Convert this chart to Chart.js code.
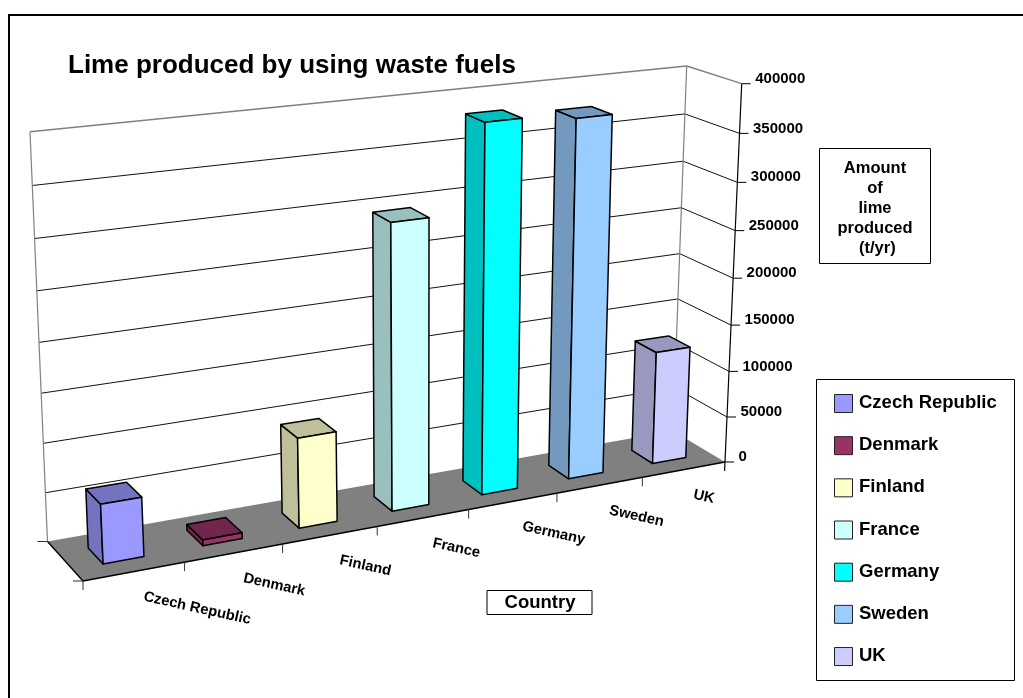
<!DOCTYPE html>
<html>
<head>
<meta charset="utf-8">
<title>Lime produced by using waste fuels</title>
<script src="https://cdn.jsdelivr.net/npm/chart.js@4"></script>
<style>
  html, body { margin: 0; padding: 0; background: #fff; overflow: hidden; }
  canvas { display: block; }
</style>
</head>
<body>
<canvas id="limeChart" width="1023" height="698"></canvas>
<script>
const chartTitle = 'Lime produced by using waste fuels';
const countries = ['Czech Republic', 'Denmark', 'Finland', 'France', 'Germany', 'Sweden', 'UK'];
const limeProduced = [60000, 6000, 93000, 295000, 382000, 376000, 122000];
const faceColors = ['#9999FF', '#993366', '#FFFFCC', '#CCFFFF', '#00FFFF', '#99CCFF', '#CCCCFF'];
const sideColors = ['#7373BF', '#73264D', '#BFBF99', '#99BFBF', '#00BFBF', '#7399BF', '#9999BF'];
const valueAxisLines = ['Amount', 'of', 'lime', 'produced', ' (t/yr)'];
const categoryAxisTitle = 'Country';

// screen corners of the 3d box the chart sits in
const box = {
  floorFrontLeft: [83, 581], floorFrontRight: [725, 462],
  floorBackLeft: [47.5, 541.5], floorBackRight: [673, 431],
  topFrontLeft: [63, 156], topFrontRight: [741.7, 83.7],
  topBackLeft: [30, 131.7], topBackRight: [686.7, 66]
};
const uWarp = 1.128;    // perspective along the categories
const hWarp = 0.945;    // perspective along the values
const depthFront = 0.29, depthBack = 0.70;
const font = 'Liberation Sans, Arial, sans-serif';

function warp(t, k) {
  return t * k / (1 - t + t * k);
}

function mix(a, b, t) {
  return [a[0] + (b[0] - a[0]) * t, a[1] + (b[1] - a[1]) * t];
}

// u: left to right, v: front to back, h: floor to top (all 0..1)
function project(u, v, h) {
  const uu = warp(u, uWarp), hh = warp(h, hWarp);
  const floorFront = mix(box.floorFrontLeft, box.floorFrontRight, uu);
  const floorBack = mix(box.floorBackLeft, box.floorBackRight, uu);
  const topFront = mix(box.topFrontLeft, box.topFrontRight, uu);
  const topBack = mix(box.topBackLeft, box.topBackRight, uu);
  return mix(mix(floorFront, floorBack, v), mix(topFront, topBack, v), hh);
}

function poly(ctx, pts, fill, stroke, lineWidth) {
  ctx.beginPath();
  pts.forEach((p, i) => i ? ctx.lineTo(p[0], p[1]) : ctx.moveTo(p[0], p[1]));
  ctx.closePath();
  if (fill) { ctx.fillStyle = fill; ctx.fill(); }
  if (stroke) { ctx.strokeStyle = stroke; ctx.lineWidth = lineWidth; ctx.stroke(); }
}

function line(ctx, a, b, color, lineWidth) {
  ctx.beginPath();
  ctx.moveTo(a[0], a[1]);
  ctx.lineTo(b[0], b[1]);
  ctx.strokeStyle = color;
  ctx.lineWidth = lineWidth;
  ctx.stroke();
}

function drawWalls(chart, ctx) {
  const yScale = chart.scales.y, area = chart.chartArea;
  ctx.lineJoin = 'round';
  yScale.ticks.forEach(tick => {
    const h = (area.bottom - yScale.getPixelForValue(tick.value)) / area.height;
    if (h <= 0) return;
    const color = h >= 1 ? '#808080' : '#111';
    const width = h >= 1 ? 1.4 : 1;
    line(ctx, project(0, 1, h), project(1, 1, h), color, width);
    line(ctx, project(1, 1, h), project(1, 0, h), color, width);
  });
  line(ctx, project(0, 1, 0), project(0, 1, 1), '#808080', 1.2);
  line(ctx, project(1, 1, 0), project(1, 1, 1), '#808080', 1.2);
  poly(ctx, [project(0, 0, 0), project(1, 0, 0), project(1, 1, 0), project(0, 1, 0)], '#808080');
  line(ctx, project(0, 1, 0), project(0, 0, 0), '#000', 1.4);
  line(ctx, project(0, 0, 0), project(1, 0, 0), '#000', 1.4);
}

function drawAxes(chart, ctx) {
  const yScale = chart.scales.y, xScale = chart.scales.x, area = chart.chartArea;
  const n = xScale.getLabels().length;

  // value axis runs up the right front corner
  const axisFoot = project(1, 0, 0);
  line(ctx, [axisFoot[0] - 0.4, axisFoot[1] + 9], project(1, 0, 1), '#000', 1.2);
  ctx.font = 'bold 15px ' + font;
  ctx.fillStyle = '#000';
  ctx.textAlign = 'left';
  ctx.textBaseline = 'middle';
  yScale.ticks.forEach(tick => {
    const h = (area.bottom - yScale.getPixelForValue(tick.value)) / area.height;
    const p = project(1, 0, h);
    line(ctx, p, [p[0] + 9, p[1]], '#000', 1);
    ctx.fillText(tick.label, p[0] + 13.5, p[1] - 5);
  });

  // little marks under the floor edges
  line(ctx, project(0, 1, 0), [project(0, 1, 0)[0] - 10, project(0, 1, 0)[1]], '#333', 1);
  line(ctx, project(0, 0, 0), [project(0, 0, 0)[0] - 10, project(0, 0, 0)[1]], '#333', 1);
  for (let i = 0; i < n; i++) {
    const p = project(i / n, 0, 0);
    line(ctx, p, [p[0], p[1] + 9], '#333', 1);
  }

  // category labels sit rotated just below the front edge
  ctx.font = 'bold 14.7px ' + font;
  xScale.getLabels().forEach((label, i) => {
    const u = (xScale.getPixelForValue(i) - area.left) / area.width;
    const p = project(u, 0, 0);
    ctx.save();
    ctx.translate(p[0] + 9.5, p[1] + 25);
    ctx.rotate(12.5 * Math.PI / 180);
    ctx.fillStyle = '#000';
    ctx.textAlign = 'left';
    ctx.textBaseline = 'middle';
    ctx.fillText(label, 0, 0);
    ctx.restore();
  });
}

function drawBars(chart, ctx) {
  const area = chart.chartArea;
  const meta = chart.getDatasetMeta(0);
  meta.data.forEach((bar, i) => {
    const props = bar.getProps(['x', 'y', 'width']);
    const u0 = (props.x - props.width / 2 - area.left) / area.width;
    const u1 = (props.x + props.width / 2 - area.left) / area.width;
    const h = (area.bottom - props.y) / area.height;
    const v0 = depthFront, v1 = depthBack;
    const outline = '#000';
    poly(ctx, [project(u0, v0, 0), project(u0, v1, 0), project(u0, v1, h), project(u0, v0, h)], sideColors[i], outline, 1.5);
    poly(ctx, [project(u0, v0, h), project(u0, v1, h), project(u1, v1, h), project(u1, v0, h)], sideColors[i], outline, 1.5);
    poly(ctx, [project(u0, v0, 0), project(u1, v0, 0), project(u1, v0, h), project(u0, v0, h)], bar.options.backgroundColor, outline, 1.5);
  });
}

function drawBoxes(chart, ctx) {
  ctx.fillStyle = '#000';

  // value axis title box
  ctx.strokeStyle = '#000';
  ctx.lineWidth = 1;
  ctx.strokeRect(819.5, 148.5, 111, 115);
  ctx.font = 'bold 16.5px ' + font;
  ctx.textAlign = 'center';
  ctx.textBaseline = 'middle';
  valueAxisLines.forEach((text, i) => ctx.fillText(text, 875, 168 + i * 20));

  // category axis title box
  ctx.strokeRect(487, 590.5, 105, 24);
  ctx.font = 'bold 18.5px ' + font;
  ctx.fillText(categoryAxisTitle, 540, 603);

  // legend
  ctx.strokeRect(816.5, 379.5, 198, 301);
  ctx.font = 'bold 18.5px ' + font;
  ctx.textAlign = 'left';
  chart.scales.x.getLabels().forEach((label, i) => {
    const y = 394 + i * 42.17;
    ctx.fillStyle = faceColors[i];
    ctx.fillRect(834.5, y + 0.5, 18, 18);
    ctx.strokeStyle = '#222';
    ctx.lineWidth = 1;
    ctx.strokeRect(834.5, y + 0.5, 18, 18);
    ctx.fillStyle = '#000';
    ctx.fillText(label, 859, y + 9);
  });
}

const lime3d = {
  id: 'lime3d',
  beforeDatasetsDraw(chart) {
    const ctx = chart.ctx;
    ctx.save();
    // page frame, runs off the right and bottom edge
    ctx.strokeStyle = '#000';
    ctx.lineWidth = 2;
    ctx.strokeRect(9, 15, 1040, 720);
    drawWalls(chart, ctx);
    drawAxes(chart, ctx);
    drawBars(chart, ctx);
    drawBoxes(chart, ctx);
    ctx.restore();
    return false;   // the flat bars are replaced by the drawn prisms
  }
};

new Chart(document.getElementById('limeChart'), {
  type: 'bar',
  data: {
    labels: countries,
    datasets: [{
      label: 'Amount of lime produced (t/yr)',
      data: limeProduced,
      backgroundColor: faceColors,
      barPercentage: 0.405,
      categoryPercentage: 1
    }]
  },
  options: {
    responsive: false,
    animation: false,
    layout: { padding: { left: 68 } },
    plugins: {
      legend: { display: false },
      tooltip: { enabled: false },
      title: {
        display: true,
        text: chartTitle,
        align: 'start',
        color: '#000',
        font: { family: font, size: 26, weight: 'bold' },
        padding: { top: 50, bottom: 0 }
      }
    },
    scales: {
      x: { display: false },
      y: {
        display: false,
        min: 0,
        max: 400000,
        ticks: { stepSize: 50000, callback: v => String(v) }
      }
    }
  },
  plugins: [lime3d]
});
</script>
</body>
</html>
